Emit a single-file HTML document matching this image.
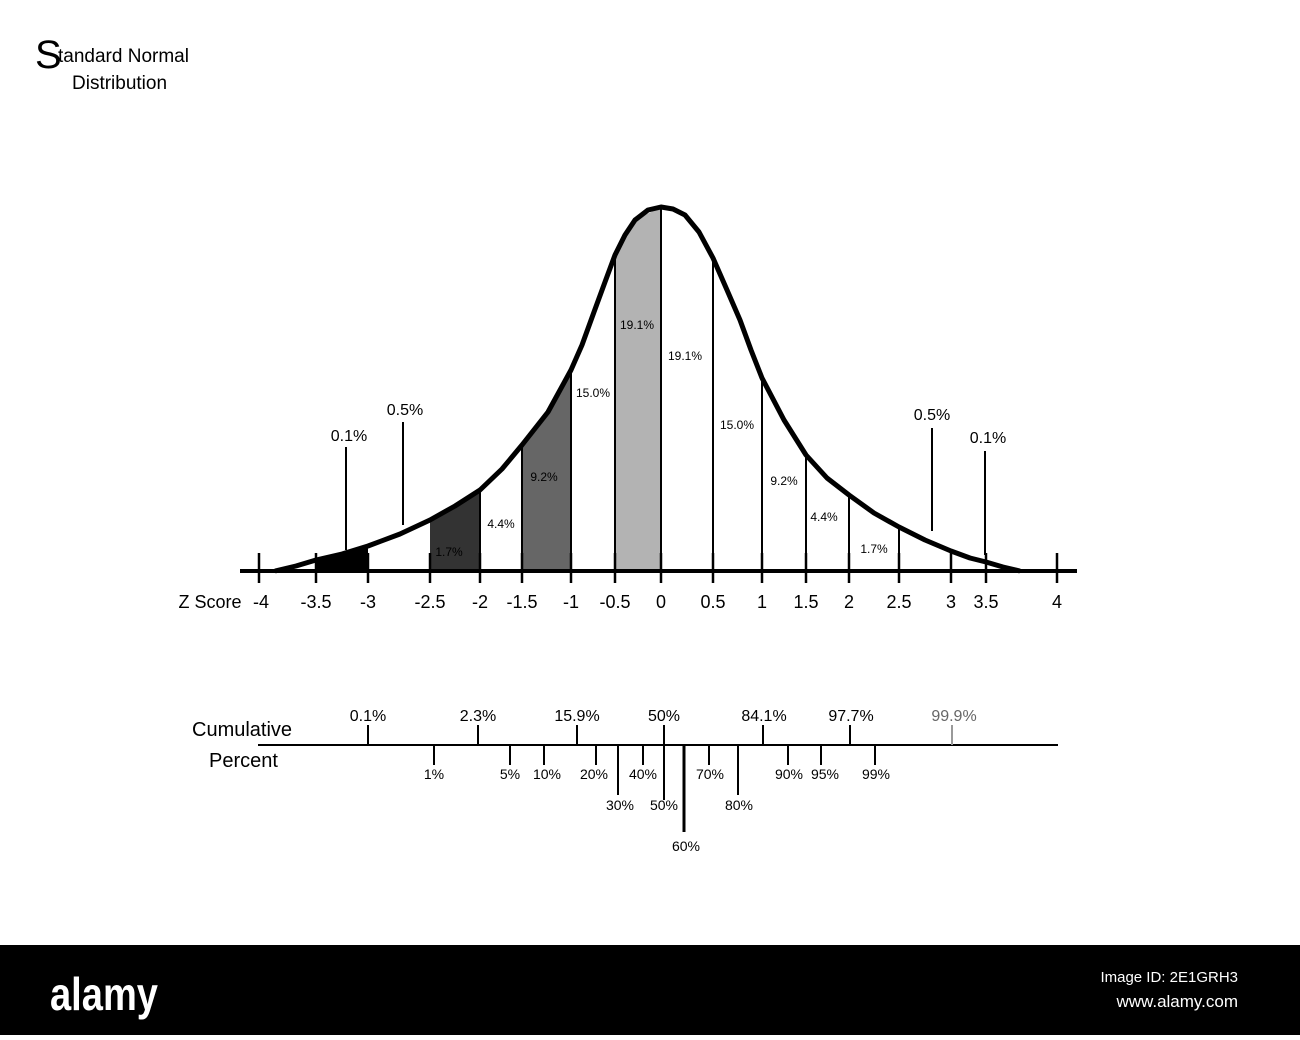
<!DOCTYPE html>
<html><head><meta charset="utf-8"><style>
body{margin:0;width:1300px;height:1035px;background:#fff;overflow:hidden;font-family:"Liberation Sans",sans-serif}
</style></head><body>
<svg width="1300" height="1035" viewBox="0 0 1300 1035" xmlns="http://www.w3.org/2000/svg" font-family="Liberation Sans, sans-serif">
<rect width="1300" height="1035" fill="#fff"/>
<text x="35" y="68" font-size="40">S</text>
<text x="58" y="62" font-size="19">tandard Normal</text>
<text x="72" y="89" font-size="19">Distribution</text>

<polygon points="316,571 316,560 342,554 368,546 368,571" fill="#000"/>
<polygon points="430,571 430,520 455,506 480,490 480,571" fill="#333"/>
<polygon points="522,571 522,445 548,412 571,370 571,571" fill="#666"/>
<polygon points="615,571 615,255 635,220 661,207 661,571" fill="#b3b3b3"/>

<g stroke="#000" stroke-width="2">
<line x1="480" y1="490" x2="480" y2="571"/>
<line x1="522" y1="445" x2="522" y2="571"/>
<line x1="571" y1="370" x2="571" y2="571"/>
<line x1="615" y1="255" x2="615" y2="571"/>
<line x1="661" y1="207" x2="661" y2="571"/>
<line x1="713" y1="258" x2="713" y2="571"/>
<line x1="762" y1="378" x2="762" y2="571"/>
<line x1="806" y1="455" x2="806" y2="571"/>
<line x1="849" y1="495" x2="849" y2="571"/>
<line x1="899" y1="527" x2="899" y2="571"/>
<line x1="951" y1="551" x2="951" y2="571"/>
<line x1="346" y1="447" x2="346" y2="550"/>
<line x1="403" y1="422" x2="403" y2="525"/>
<line x1="932" y1="428" x2="932" y2="531"/>
<line x1="985" y1="451" x2="985" y2="555"/>
</g>

<polyline fill="none" stroke="#000" stroke-width="5" stroke-linejoin="round" points="275,571 296,566 316,560 342,554 368,546 400,534 430,520 455,506 480,490 502,469 522,445 548,412 571,370 582,345 594,312 605,282 615,255 625,235 635,220 648,210 661,207 673,209 685,215 699,232 713,258 727,290 740,320 751,350 762,378 784,420 806,455 827,478 849,495 874,513 899,527 925,540 951,551 970,558 986,562 1003,567 1020,571"/>

<line x1="240" y1="571" x2="1077" y2="571" stroke="#000" stroke-width="4"/>
<g stroke="#000" stroke-width="2.5">
<line x1="259" y1="553" x2="259" y2="583"/><line x1="316" y1="553" x2="316" y2="583"/>
<line x1="368" y1="553" x2="368" y2="583"/><line x1="430" y1="553" x2="430" y2="583"/>
<line x1="480" y1="553" x2="480" y2="583"/><line x1="522" y1="553" x2="522" y2="583"/>
<line x1="571" y1="553" x2="571" y2="583"/><line x1="615" y1="553" x2="615" y2="583"/>
<line x1="661" y1="553" x2="661" y2="583"/><line x1="713" y1="553" x2="713" y2="583"/>
<line x1="762" y1="553" x2="762" y2="583"/><line x1="806" y1="553" x2="806" y2="583"/>
<line x1="849" y1="553" x2="849" y2="583"/><line x1="899" y1="553" x2="899" y2="583"/>
<line x1="951" y1="553" x2="951" y2="583"/><line x1="986" y1="553" x2="986" y2="583"/>
<line x1="1057" y1="553" x2="1057" y2="583"/>
</g>
<g font-size="18" text-anchor="middle">
<text x="210" y="608">Z Score</text>
<text x="261" y="608">-4</text><text x="316" y="608">-3.5</text><text x="368" y="608">-3</text>
<text x="430" y="608">-2.5</text><text x="480" y="608">-2</text><text x="522" y="608">-1.5</text>
<text x="571" y="608">-1</text><text x="615" y="608">-0.5</text><text x="661" y="608">0</text>
<text x="713" y="608">0.5</text><text x="762" y="608">1</text><text x="806" y="608">1.5</text>
<text x="849" y="608">2</text><text x="899" y="608">2.5</text><text x="951" y="608">3</text>
<text x="986" y="608">3.5</text><text x="1057" y="608">4</text>
</g>
<g font-size="16" text-anchor="middle">
<text x="349" y="441">0.1%</text><text x="405" y="415">0.5%</text>
<text x="932" y="420">0.5%</text><text x="988" y="443">0.1%</text>
</g>
<g font-size="12" text-anchor="middle">
<text x="449" y="556">1.7%</text><text x="501" y="528">4.4%</text><text x="544" y="481">9.2%</text>
<text x="593" y="397">15.0%</text><text x="637" y="329">19.1%</text><text x="685" y="360">19.1%</text>
<text x="737" y="429">15.0%</text><text x="784" y="485">9.2%</text><text x="824" y="521">4.4%</text>
<text x="874" y="553">1.7%</text>
</g>

<line x1="258" y1="745" x2="1058" y2="745" stroke="#000" stroke-width="2"/>
<g stroke="#000" stroke-width="2">
<line x1="368" y1="725" x2="368" y2="745"/><line x1="478" y1="725" x2="478" y2="745"/>
<line x1="577" y1="725" x2="577" y2="745"/><line x1="664" y1="725" x2="664" y2="800"/>
<line x1="763" y1="725" x2="763" y2="745"/><line x1="850" y1="725" x2="850" y2="745"/>
<line x1="952" y1="725" x2="952" y2="745" stroke="#999"/>
<line x1="434" y1="745" x2="434" y2="765"/><line x1="510" y1="745" x2="510" y2="765"/>
<line x1="544" y1="745" x2="544" y2="765"/><line x1="596" y1="745" x2="596" y2="765"/>
<line x1="618" y1="745" x2="618" y2="795"/><line x1="643" y1="745" x2="643" y2="765"/>
<line x1="684" y1="745" x2="684" y2="832" stroke-width="3"/><line x1="709" y1="745" x2="709" y2="765"/>
<line x1="738" y1="745" x2="738" y2="795"/><line x1="788" y1="745" x2="788" y2="765"/>
<line x1="821" y1="745" x2="821" y2="765"/><line x1="875" y1="745" x2="875" y2="765"/>
</g>
<text x="192" y="736" font-size="20">Cumulative</text>
<text x="209" y="767" font-size="20">Percent</text>
<g font-size="16" text-anchor="middle">
<text x="368" y="721">0.1%</text><text x="478" y="721">2.3%</text><text x="577" y="721">15.9%</text>
<text x="664" y="721">50%</text><text x="764" y="721">84.1%</text><text x="851" y="721">97.7%</text>
<text x="954" y="721" fill="#666">99.9%</text>
</g>
<g font-size="14" text-anchor="middle">
<text x="434" y="779">1%</text><text x="510" y="779">5%</text><text x="547" y="779">10%</text>
<text x="594" y="779">20%</text><text x="643" y="779">40%</text><text x="710" y="779">70%</text>
<text x="789" y="779">90%</text><text x="825" y="779">95%</text><text x="876" y="779">99%</text>
<text x="620" y="810">30%</text><text x="664" y="810">50%</text><text x="739" y="810">80%</text>
<text x="686" y="851">60%</text>
</g>

<rect x="0" y="945" width="1300" height="90" fill="#000"/>
<text x="50" y="1010" font-size="46" font-weight="bold" fill="#fff" textLength="108" lengthAdjust="spacingAndGlyphs">alamy</text>
<text x="1238" y="982" font-size="15" fill="#fff" text-anchor="end">Image ID: 2E1GRH3</text>
<text x="1238" y="1007" font-size="17" fill="#fff" text-anchor="end">www.alamy.com</text>
</svg>
</body></html>
